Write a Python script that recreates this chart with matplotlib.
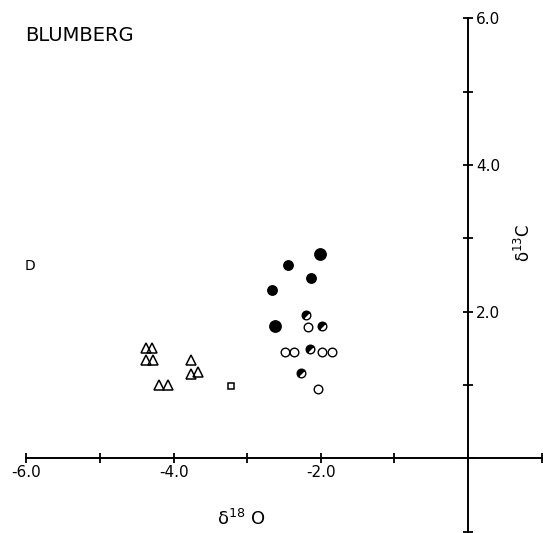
import matplotlib
matplotlib.use("Agg")
import matplotlib.pyplot as plt
from matplotlib.markers import MarkerStyle
from matplotlib.transforms import Affine2D

# delta 18O / delta 13C values
solid_big_x = [-2.01, -2.62]
solid_big_y = [2.78, 1.80]
solid_x = [-2.45, -2.13, -2.66]
solid_y = [2.63, 2.46, 2.29]
half_x = [-2.20, -1.98, -2.15, -2.27]
half_y = [1.95, 1.80, 1.49, 1.16]
open_x = [-2.17, -2.49, -2.36, -1.98, -1.85, -2.04]
open_y = [1.79, 1.45, 1.45, 1.45, 1.45, 0.95]
tri_x = [-4.375, -4.30, -4.38, -4.28, -3.77, -3.76, -3.675, -4.20, -4.08]
tri_y = [1.50, 1.50, 1.34, 1.34, 1.34, 1.15, 1.17, 1.00, 1.00]
sq_x = [-3.22]
sq_y = [0.99]

x_ticks = [-6, -5, -4, -3, -2, -1, 0, 1]
x_labels = ["-6.0", "", "-4.0", "", "-2.0", "", "", ""]
y_ticks = [-1, 0, 1, 2, 3, 4, 5, 6]
y_labels = ["", "", "", "2.0", "", "4.0", "", "6.0"]


def main():
    fig = plt.figure(figsize=(5.43, 5.33), dpi=100)
    ax = fig.add_axes([0, 0, 1, 1])
    ax.set_xlim(-6.359, 1.019)
    ax.set_ylim(-1.02, 6.25)

    # crossing axes drawn with spines at the origin
    ax.spines["left"].set_visible(False)
    ax.spines["top"].set_visible(False)
    ax.spines["bottom"].set_position(("data", 0))
    ax.spines["right"].set_position(("data", 0))
    ax.spines["bottom"].set_bounds(-6, 1)
    ax.spines["right"].set_bounds(-1, 6)
    for s in ("bottom", "right"):
        ax.spines[s].set_linewidth(1.4)
    ax.yaxis.set_ticks_position("right")
    ax.xaxis.set_ticks_position("bottom")
    ax.set_xticks(x_ticks, x_labels)
    ax.set_yticks(y_ticks, y_labels)
    ax.tick_params(direction="inout", length=7.5, width=1.3, labelsize=11, pad=1)
    ax.tick_params(axis="y", pad=2)

    ax.plot(solid_big_x, solid_big_y, "o", ms=8.2, color="black", ls="none")
    ax.plot(solid_x, solid_y, "o", ms=6.8, color="black", ls="none")
    half = MarkerStyle("o", fillstyle="left", transform=Affine2D().rotate_deg(-45))
    ax.plot(half_x, half_y, marker=half, ms=6.2, ls="none", color="black",
            markerfacecoloralt="white", mec="black", mew=1.0)
    ax.plot(open_x, open_y, "o", ms=6.2, mfc="white", mec="black", mew=1.0, ls="none")
    ax.plot(tri_x, tri_y, "^", ms=7, mfc="none", mec="black", mew=1.1, ls="none")
    ax.plot(sq_x, sq_y, "s", ms=5, mfc="none", mec="black", mew=1.1, ls="none")

    fig.text(0.046, 0.934, "BLUMBERG", fontsize=14, ha="left", va="center")
    fig.text(0.046, 0.501, "D", fontsize=10, ha="left", va="center")
    fig.text(0.444, 0.026, "δ$^{18}$ O", fontsize=13, ha="center", va="center")
    fig.text(0.965, 0.544, "δ$^{13}$C", fontsize=12, ha="center",
             va="center", rotation=90)

    fig.savefig("out.png", dpi=100)
    plt.close(fig)


if __name__ == "__main__":
    main()
